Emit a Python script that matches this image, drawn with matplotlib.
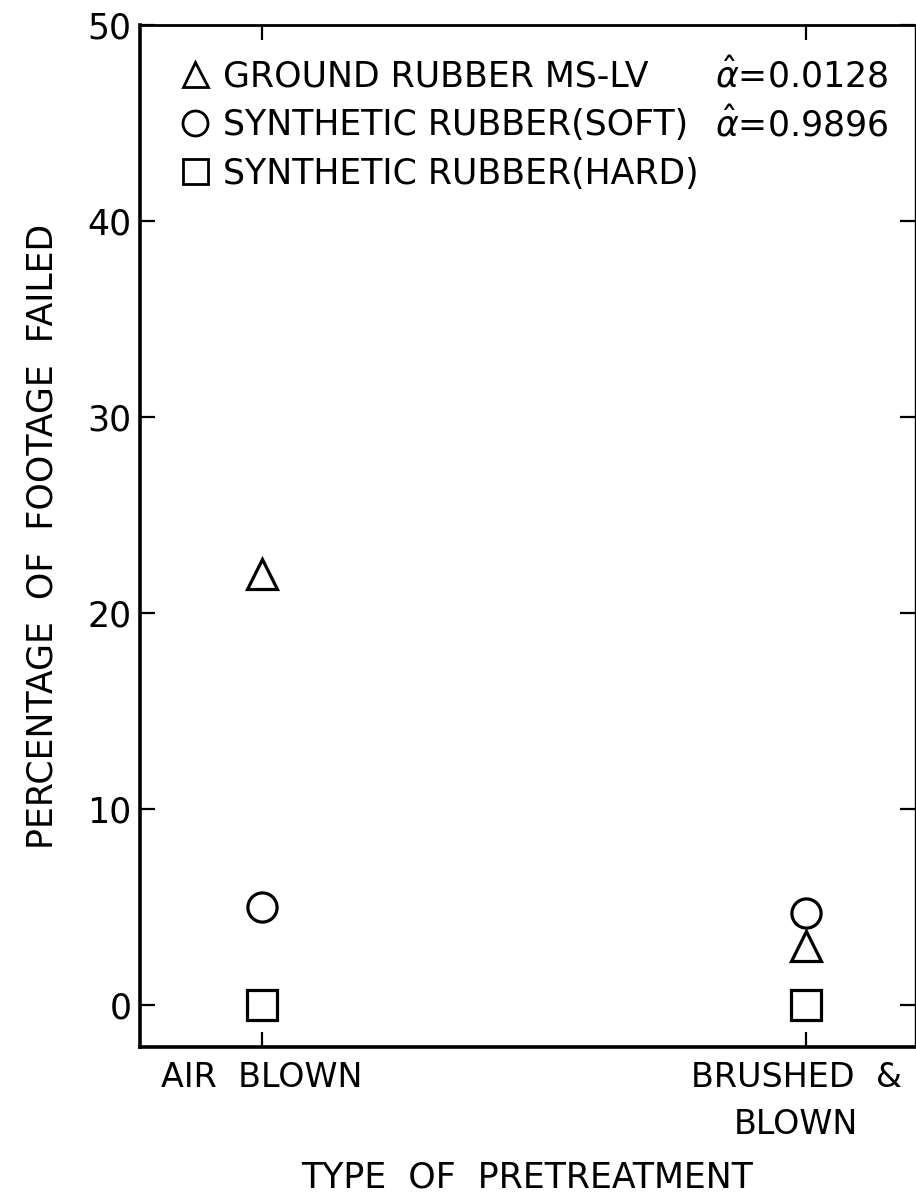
import matplotlib
matplotlib.use('Agg')
import matplotlib.pyplot as plt
import matplotlib.transforms as mtransforms
from matplotlib.lines import Line2D

plt.rcParams['font.family'] = 'DejaVu Sans'

# pretreatment categories (x positions 1, 2)
categories = ['AIR  BLOWN', 'BRUSHED  &\nBLOWN']
cat_x = [1, 2]

# percentage of footage failed
ground_ms_lv = [22.0, 3.0]
synth_soft = [5.0, 4.7]
synth_hard = [0.0, 0.0]

series_names = ['GROUND RUBBER MS-LV', 'SYNTHETIC RUBBER(SOFT)', 'SYNTHETIC RUBBER(HARD)']
alpha_vals = ['0.0128', '0.9896', None]
series_markers = ['^', 'o', 's']

yticks = [0, 10, 20, 30, 40, 50]

fig = plt.figure(figsize=(9.16, 12), dpi=100)
ax = fig.add_axes([0.1528, 0.1275, 0.9989 - 0.1528, 0.9792 - 0.1275])

mk = dict(ls='none', ms=21, mfc='white', mec='black', mew=2.3)
for vals, m in zip([ground_ms_lv, synth_soft, synth_hard], series_markers):
    ax.plot(cat_x, vals, marker=m, **mk)

ax.set_xlim(0.776, 2.2)
ax.set_ylim(-2.15, 50)
ax.set_yticks(yticks)
ax.set_xticks(cat_x)
ax.set_xticklabels(categories, fontsize=24, linespacing=1.55)
ax.tick_params(axis='y', labelsize=25, pad=6)
ax.tick_params(which='major', direction='in', length=11, width=1.6,
               top=True, right=True, bottom=True, left=True)
ax.tick_params(axis='x', pad=10)
# second category label sits a little left of its tick
lab = ax.get_xticklabels()[1]
lab.set_transform(lab.get_transform() +
                  mtransforms.ScaledTranslation(-10 / 100, 0, fig.dpi_scale_trans))

ax.spines['left'].set_linewidth(2.6)
ax.spines['bottom'].set_linewidth(2.6)
ax.spines['top'].set_linewidth(2.0)
ax.spines['right'].set_linewidth(1.0)

ax.set_ylabel('PERCENTAGE  OF  FOOTAGE  FAILED', fontsize=25, labelpad=20)
ax.set_xlabel('TYPE  OF  PRETREATMENT', fontsize=25, labelpad=14)

handles = [Line2D([], [], marker=m, ls='none', ms=18, mfc='white', mec='black', mew=2.0)
           for m in series_markers]
leg = ax.legend(handles, series_names, loc='upper left', frameon=False,
                fontsize=25, handlelength=0.9, handletextpad=0.35,
                labelspacing=0.42, borderaxespad=0.3, bbox_to_anchor=(0.02, 0.99))

# alpha-hat values aligned on legend rows
fig.canvas.draw()
renderer = fig.canvas.get_renderer()
inv = ax.transAxes.inverted()
for txt, a in zip(leg.get_texts(), alpha_vals):
    if a is None:
        continue
    bb = txt.get_window_extent(renderer)
    yc = inv.transform((0, (bb.y0 + bb.y1) / 2))[1]
    ax.text(0.742, yc, r'$\hat{\alpha}$' + '=' + a, transform=ax.transAxes,
            fontsize=25, va='center', ha='left')

fig.savefig('out.png', dpi=100)
